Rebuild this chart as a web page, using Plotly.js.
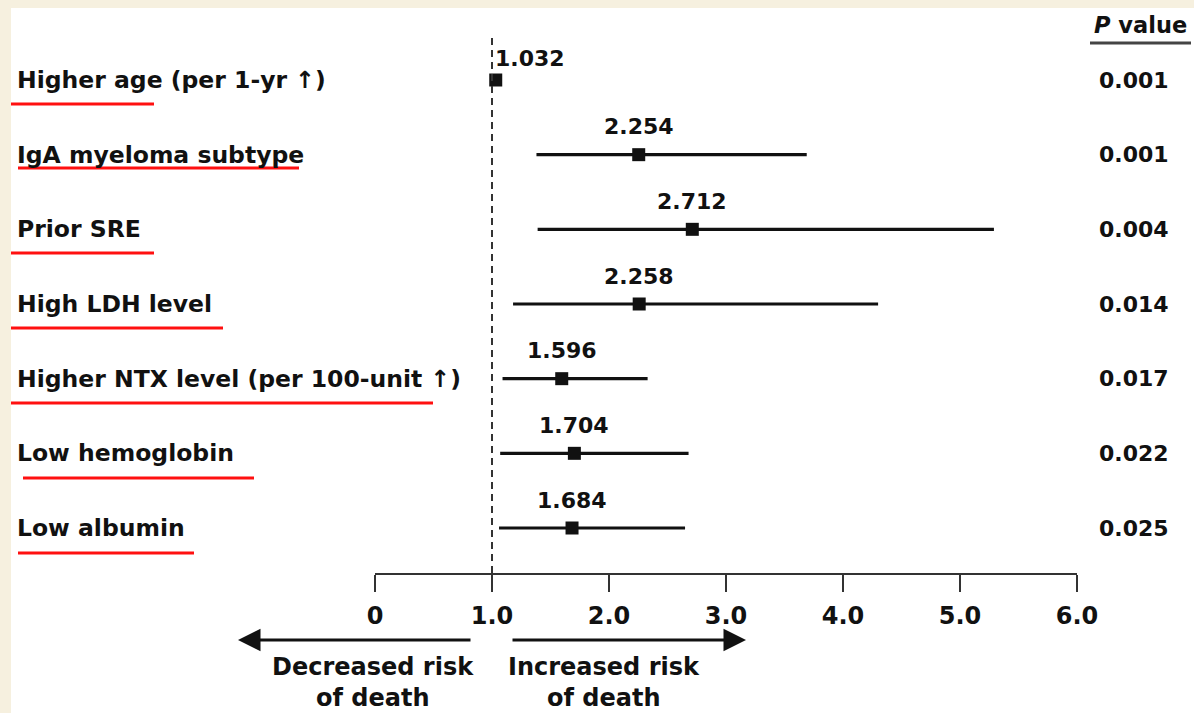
<!DOCTYPE html>
<html>
<head>
<meta charset="utf-8">
<script src="https://cdn.plot.ly/plotly-3.0.1.min.js"></script>
<style>html,body{margin:0;padding:0;background:#F6F0DF;}</style>
</head>
<body>
<div id="chart" style="width:1194px;height:713px;"></div>
<script>
// ---- data ----
const factors = ['Higher age (per 1-yr ↑)', 'IgA myeloma subtype', 'Prior SRE', 'High LDH level',
                 'Higher NTX level (per 100-unit ↑)', 'Low hemoglobin', 'Low albumin'];
const hazardRatio = [1.032, 2.254, 2.712, 2.258, 1.596, 1.704, 1.684];
const ciLower = [1.02, 1.38, 1.39, 1.18, 1.09, 1.07, 1.06];
const ciUpper = [1.05, 3.69, 5.29, 4.30, 2.33, 2.68, 2.65];
const pValues = ['0.001', '0.001', '0.004', '0.014', '0.017', '0.022', '0.025'];
const xTickVals = [0, 1, 2, 3, 4, 5, 6];
const xTickText = ['0', '1.0', '2.0', '3.0', '4.0', '5.0', '6.0'];
const pHeader = '<i>P</i> value';
const leftNote = ['Decreased risk', 'of death'];
const rightNote = ['Increased risk', 'of death'];

// ---- layout helpers ----
const W = 1194, H = 713;
const ml = 375, mr = 117, mt = 35, mb = 140;
const plotW = W - ml - mr, plotH = H - mt - mb;
const px = p => (p - ml) / plotW;
const py = p => (H - mb - p) / plotH;
const n = factors.length;
const rowY = factors.map((_, i) => n - i);

const FONT = 'DejaVu Sans';
const ink = '#111111';

const trace = {
  type: 'scatter', mode: 'markers',
  x: hazardRatio, y: rowY,
  error_x: {
    type: 'data', symmetric: false,
    array: hazardRatio.map((v, i) => ciUpper[i] - v),
    arrayminus: hazardRatio.map((v, i) => v - ciLower[i]),
    color: ink, thickness: 3.2, width: 0
  },
  marker: {symbol: 'square', size: 13, color: ink},
  hoverinfo: 'skip', showlegend: false, cliponaxis: false
};

const annotations = [];
factors.forEach((f, i) => {
  annotations.push({xref: 'paper', yref: 'y', x: px(15), y: rowY[i], xanchor: 'left', yanchor: 'middle',
    text: f, showarrow: false, font: {family: FONT, size: 23.5, color: ink, weight: 'bold'}});
  annotations.push({xref: 'paper', yref: 'y', x: px(1134), y: rowY[i], xanchor: 'center', yanchor: 'middle',
    text: pValues[i], showarrow: false, font: {family: FONT, size: 22, color: ink, weight: 'bold'}});
  const first = i === 0;
  annotations.push({xref: 'x', yref: 'y', x: hazardRatio[i], y: rowY[i],
    xanchor: first ? 'left' : 'center', yanchor: 'middle', xshift: first ? -3 : 0, yshift: first ? 22 : 28,
    text: hazardRatio[i].toFixed(3), showarrow: false, font: {family: FONT, size: 22, color: ink, weight: 'bold'}});
});
annotations.push({xref: 'paper', yref: 'paper', x: px(1140), y: py(25), xanchor: 'center', yanchor: 'middle',
  text: pHeader, showarrow: false, font: {family: FONT, size: 22.5, color: ink, weight: 'bold'}});
// bottom notes
[[leftNote, 373], [rightNote, 604]].forEach(([lines, cx]) => {
  lines.forEach((t, k) => {
    annotations.push({xref: 'paper', yref: 'paper', x: px(cx), y: py(667 + 31 * k), xanchor: 'center', yanchor: 'middle',
      text: t, showarrow: false, font: {family: FONT, size: 24, color: ink, weight: 'bold'}});
  });
});
// arrows
annotations.push({xref: 'paper', yref: 'paper', x: px(238), y: py(640), ax: 234, ay: 0, text: '',
  showarrow: true, arrowhead: 2, arrowsize: 1.5, arrowwidth: 3, arrowcolor: ink, standoff: 0, startstandoff: 0});
annotations.push({xref: 'paper', yref: 'paper', x: px(746), y: py(640), ax: -235, ay: 0, text: '',
  showarrow: true, arrowhead: 2, arrowsize: 1.5, arrowwidth: 3, arrowcolor: ink, standoff: 0, startstandoff: 0});

const red = '#FF1010';
const underline = (x0, x1, y) => ({type: 'line', xref: 'paper', yref: 'paper', x0: px(x0), x1: px(x1), y0: py(y), y1: py(y),
  line: {color: red, width: 3}});

const shapes = [
  {type: 'rect', xref: 'paper', yref: 'paper', x0: px(11), x1: px(W + 5), y0: py(8), y1: py(H + 5),
    fillcolor: '#FFFFFF', line: {width: 0}, layer: 'below'},
  {type: 'line', xref: 'x', yref: 'paper', x0: 1, x1: 1, y0: 0, y1: 1,
    line: {color: '#333333', width: 2, dash: '7px,5px'}},
  {type: 'line', xref: 'paper', yref: 'paper', x0: px(1090), x1: px(1191), y0: py(43), y1: py(43),
    line: {color: '#444444', width: 3}},
  underline(11, 154, 104),
  underline(18, 299, 168),
  underline(11, 154, 253),
  underline(11, 223, 328),
  underline(11, 433, 403),
  underline(23, 254, 478),
  underline(18, 194, 553)
];

const layout = {
  width: W, height: H,
  margin: {l: ml, r: mr, t: mt, b: mb, pad: 0},
  paper_bgcolor: '#F6F0DF', plot_bgcolor: 'rgba(0,0,0,0)',
  showlegend: false,
  xaxis: {range: [0, 6], tickvals: xTickVals, ticktext: xTickText, ticks: 'outside', ticklen: 17, tickwidth: 2,
    tickcolor: '#333333', showline: true, linecolor: '#333333', linewidth: 2, showgrid: false, zeroline: false,
    ticklabelstandoff: 3, tickfont: {family: FONT, size: 24, color: ink, weight: 'bold'}, fixedrange: true},
  yaxis: {range: [1 - 45 / 74.67, n + 45 / 74.67], visible: false, showgrid: false, zeroline: false, fixedrange: true},
  shapes: shapes, annotations: annotations
};

Plotly.newPlot('chart', [trace], layout, {displayModeBar: false, staticPlot: true});
</script>
</body>
</html>
